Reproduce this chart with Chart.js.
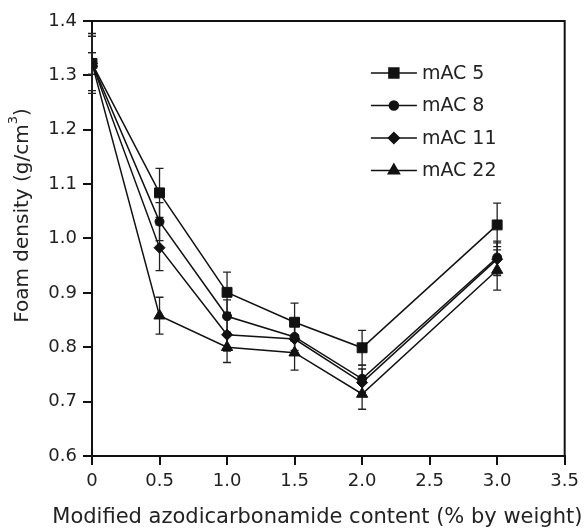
<!DOCTYPE html>
<html>
<head>
<meta charset="utf-8">
<script src="https://cdn.jsdelivr.net/npm/chart.js@4"></script>
<style>
  html, body { margin: 0; padding: 0; background: #fff; }
  #wrap { width: 585px; height: 530px; }
</style>
</head>
<body>
<div id="wrap"><canvas id="chart" width="585" height="530"></canvas></div>
<script>
// modified azodicarbonamide content (% by weight)
const content = [0, 0.5, 1.0, 1.5, 2.0, 3.0];

// foam density (g/cm3)
const mac5 = [1.322, 1.084, 0.901, 0.846, 0.799, 1.025];
const mac8 = [1.322, 1.031, 0.857, 0.819, 0.742, 0.965];
const mac11 = [1.322, 0.983, 0.823, 0.815, 0.735, 0.962];
const mac22 = [1.322, 0.858, 0.800, 0.790, 0.714, 0.942];

// error bar half widths
const err5 = [0.055, 0.045, 0.037, 0.035, 0.032, 0.040];
const err8 = [0.020, 0.035, 0.030, 0.025, 0.025, 0.030];
const err11 = [0.020, 0.042, 0.030, 0.025, 0.025, 0.030];
const err22 = [0.050, 0.034, 0.028, 0.032, 0.028, 0.037];

const labels = ["mAC 5", "mAC 8", "mAC 11", "mAC 22"];
const markers = ["rect", "circle", "rectRot", "triangle"];
const radii = [7, 4.5, 5.5, 6.5];

const xTitle = "Modified azodicarbonamide content (% by weight)";
const yTitle = "Foam density (g/cm";
const yTitleSup = "3";

const FONT = "'DejaVu Sans', 'Liberation Sans', Arial, sans-serif";

function series(values, errs, i) {
  return {
    label: labels[i],
    data: content.map((x, j) => ({ x: x, y: values[j], e: errs[j] })),
    borderColor: "#111",
    backgroundColor: "#111",
    borderWidth: 1.5,
    pointStyle: markers[i],
    pointRadius: radii[i],
    pointBorderWidth: 1,
    tension: 0,
  };
}

// error bars + closed frame + legend + axis titles
const extras = {
  id: "extras",
  beforeDatasetsDraw(chart) {
    const ctx = chart.ctx;
    const xs = chart.scales.x, ys = chart.scales.y;
    ctx.save();
    ctx.strokeStyle = "#222";
    ctx.lineWidth = 1.3;
    chart.data.datasets.forEach((ds) => {
      ds.data.forEach((p) => {
        const px = xs.getPixelForValue(p.x);
        const top = ys.getPixelForValue(p.y + p.e);
        const bot = ys.getPixelForValue(p.y - p.e);
        ctx.beginPath();
        ctx.moveTo(px, top); ctx.lineTo(px, bot);
        ctx.moveTo(px - 4, top); ctx.lineTo(px + 4, top);
        ctx.moveTo(px - 4, bot); ctx.lineTo(px + 4, bot);
        ctx.stroke();
      });
    });
    ctx.restore();
  },
  afterDraw(chart) {
    const ctx = chart.ctx;
    const a = chart.chartArea;
    ctx.save();
    ctx.strokeStyle = "#111";
    ctx.lineWidth = 2;
    ctx.beginPath();
    ctx.moveTo(a.left, a.top); ctx.lineTo(a.right, a.top); ctx.lineTo(a.right, a.bottom);
    ctx.stroke();

    // legend
    const x0 = a.left + (a.right - a.left) * 0.59;
    const y0 = a.top + 52;
    const gap = 32.5;
    ctx.font = "19px " + FONT;
    ctx.textBaseline = "middle";
    ctx.textAlign = "left";
    chart.data.datasets.forEach((ds, i) => {
      const y = y0 + i * gap;
      ctx.strokeStyle = "#111";
      ctx.lineWidth = 1.5;
      ctx.beginPath();
      ctx.moveTo(x0, y); ctx.lineTo(x0 + 46, y);
      ctx.stroke();
      ctx.fillStyle = "#111";
      Chart.helpers.drawPoint(ctx, { pointStyle: ds.pointStyle, radius: ds.pointRadius, borderWidth: 1 }, x0 + 23, y);
      ctx.fillStyle = "#222";
      ctx.fillText(ds.label, x0 + 51, y + 1);
    });

    // x title
    ctx.fillStyle = "#222";
    ctx.font = "21px " + FONT;
    ctx.textAlign = "center";
    ctx.fillText(xTitle, (a.left + a.right) / 2 - 11, chart.height - 12);

    // y title with superscript
    ctx.font = "20px " + FONT;
    const w1 = ctx.measureText(yTitle).width;
    ctx.font = "13px " + FONT;
    const w2 = ctx.measureText(yTitleSup).width;
    ctx.font = "20px " + FONT;
    const w3 = ctx.measureText(")").width;
    const total = w1 + w2 + w3;
    ctx.translate(23, (a.top + a.bottom) / 2 - 23);
    ctx.rotate(-Math.PI / 2);
    ctx.textAlign = "left";
    let sx = -total / 2;
    ctx.fillText(yTitle, sx, 0);
    sx += w1;
    ctx.font = "13px " + FONT;
    ctx.fillText(yTitleSup, sx, -9);
    sx += w2;
    ctx.font = "20px " + FONT;
    ctx.fillText(")", sx, 0);
    ctx.restore();
  }
};

new Chart(document.getElementById("chart"), {
  type: "line",
  data: {
    datasets: [
      series(mac5, err5, 0),
      series(mac8, err8, 1),
      series(mac11, err11, 2),
      series(mac22, err22, 3),
    ],
  },
  options: {
    responsive: false,
    animation: false,
    layout: { padding: { left: 0, top: 21, right: 17, bottom: 0 } },
    plugins: {
      legend: { display: false },
      tooltip: { enabled: false },
    },
    scales: {
      x: {
        type: "linear",
        min: 0,
        max: 3.5,
        ticks: {
          stepSize: 0.5,
          color: "#222",
          padding: 6,
          font: { family: FONT, size: 18 },
          callback: (v) => (v === 0 ? "0" : v.toFixed(1)),
        },
        grid: { drawOnChartArea: false, drawTicks: true, tickLength: 9, color: "#111", lineWidth: 2 },
        border: { color: "#111", width: 2 },
        afterFit: (s) => { s.height = 74; },
      },
      y: {
        min: 0.6,
        max: 1.4,
        ticks: {
          stepSize: 0.1,
          color: "#222",
          padding: 6,
          font: { family: FONT, size: 18 },
          callback: (v) => v.toFixed(1),
        },
        grid: { drawOnChartArea: false, drawTicks: true, tickLength: 9, color: "#111", lineWidth: 2 },
        border: { color: "#111", width: 2 },
        afterFit: (s) => { s.width = 92; },
      },
    },
  },
  plugins: [extras],
});
</script>
</body>
</html>
